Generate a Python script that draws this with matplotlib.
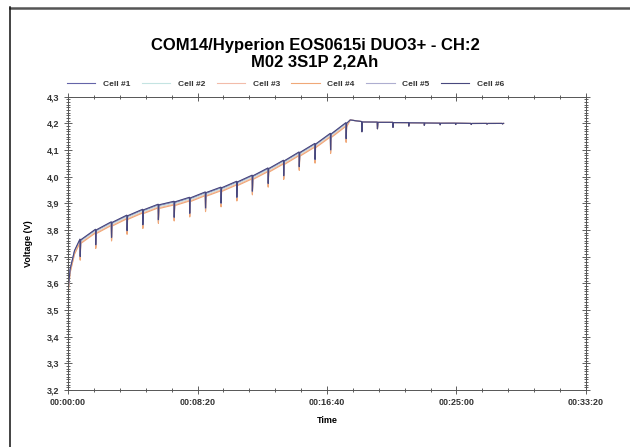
import matplotlib.pyplot as plt
from matplotlib.lines import Line2D
from matplotlib.ticker import MultipleLocator, FuncFormatter

plt.rcParams['font.family'] = ['Liberation Sans', 'DejaVu Sans']

# charge log: time (s), voltage of the upper trace (V),
# depth of the measuring dip at that sample (V, 0 = no dip)
env_t = [0, 8, 25, 46, 106, 167, 227, 288, 348, 409, 469, 530, 590, 651, 711,
         772, 832, 892, 953, 1013, 1073, 1090, 1134, 1194, 1254, 1315, 1375,
         1436, 1496, 1556, 1617, 1677, 1682]
env_v = [3.57, 3.65, 3.72, 3.763, 3.800, 3.828, 3.853, 3.875, 3.894, 3.905,
         3.920, 3.940, 3.958, 3.980, 4.003, 4.030, 4.059, 4.090, 4.122, 4.160,
         4.200, 4.213, 4.207, 4.205, 4.204, 4.203, 4.202, 4.201, 4.201, 4.200,
         4.200, 4.200, 4.200]
dip_v = [0, 0, 0, 0.065, 0.058, 0.058, 0.058, 0.058, 0.058, 0.060, 0.060,
         0.060, 0.060, 0.060, 0.060, 0.058, 0.058, 0.055, 0.060, 0.062, 0.060,
         0, 0.038, 0.025, 0.019, 0.013, 0.009, 0.006, 0.005, 0.004, 0.003,
         0.002, 0]

cells = ['Cell #1', 'Cell #2', 'Cell #3', 'Cell #4', 'Cell #5', 'Cell #6']
cell_offset = [0.0, -0.004, -0.008, -0.011, 0.002, 0.003]
cell_colors = ['#6464a8', '#c4e4e2', '#f2bcaa', '#f0a878', '#aeaed0', '#48487e']
t_cv = 1090  # cells meet at 4.2 V from here


def build(offset):
    t, v = [], []
    for tt, vv, d in zip(env_t, env_v, dip_v):
        vv = vv + (offset if tt < t_cv else 0)
        t.append(tt)
        v.append(vv)
        if d > 0:
            t += [tt + 1, tt + 3]
            v += [vv - d, vv - 0.04 * d]
    return t, v


def hms(x, pos):
    s = int(round(x))
    return f"{s // 3600:02d}:{s % 3600 // 60:02d}:{s % 60:02d}"


fig = plt.figure(figsize=(6.3, 4.47), dpi=100)
ax = fig.add_axes([0.108, 0.1275, 0.822, 0.656])

for name, off, c in zip(cells, cell_offset, cell_colors):
    t, v = build(off)
    ax.plot(t, v, color=c, lw=0.8, label=name)

ax.set_xlim(0, 2000)
ax.set_ylim(3.2, 4.3)
ax.xaxis.set_major_locator(MultipleLocator(500))
ax.xaxis.set_minor_locator(MultipleLocator(100))
ax.yaxis.set_major_locator(MultipleLocator(0.1))
ax.yaxis.set_minor_locator(MultipleLocator(0.01))
ax.xaxis.set_major_formatter(FuncFormatter(hms))
ax.yaxis.set_major_formatter(FuncFormatter(lambda y, p: f"{y:.1f}".replace('.', ',')))

ax.tick_params(which='both', direction='inout', top=True, right=True,
               width=0.6, color='#444444')
ax.tick_params(which='major', length=6, labelsize=6.5, pad=3)
ax.tick_params(which='minor', length=3)
for lab in ax.get_xticklabels() + ax.get_yticklabels():
    lab.set_fontweight('bold')
    lab.set_color('#333333')
for s in ax.spines.values():
    s.set_linewidth(0.7)
    s.set_color('#555555')

ax.set_xlabel('Time', fontsize=6.5, fontweight='bold', labelpad=6)
ax.set_ylabel('Voltage (V)', fontsize=6.5, fontweight='bold', labelpad=10)

fig.suptitle('COM14/Hyperion EOS0615i DUO3+ - CH:2\nM02 3S1P 2,2Ah',
             x=0.5, y=0.915, fontsize=12, fontweight='bold', linespacing=1.1)

leg = ax.legend(loc='lower center', bbox_to_anchor=(0.42, 1.005), ncol=6,
                frameon=False, fontsize=6, handlelength=3.4,
                handletextpad=0.9, columnspacing=1.4)
for txt in leg.get_texts():
    txt.set_fontweight('bold')
    txt.set_color('#333333')

# frame of the screenshot
fig.add_artist(Line2D([10 / 630, 1], [1 - 7.5 / 447] * 2, color='#555555',
                      lw=1.8, transform=fig.transFigure))
fig.add_artist(Line2D([10 / 630] * 2, [0, 1 - 7 / 447], color='#111111',
                      lw=1.1, transform=fig.transFigure))

fig.savefig('out.png', dpi=100)
